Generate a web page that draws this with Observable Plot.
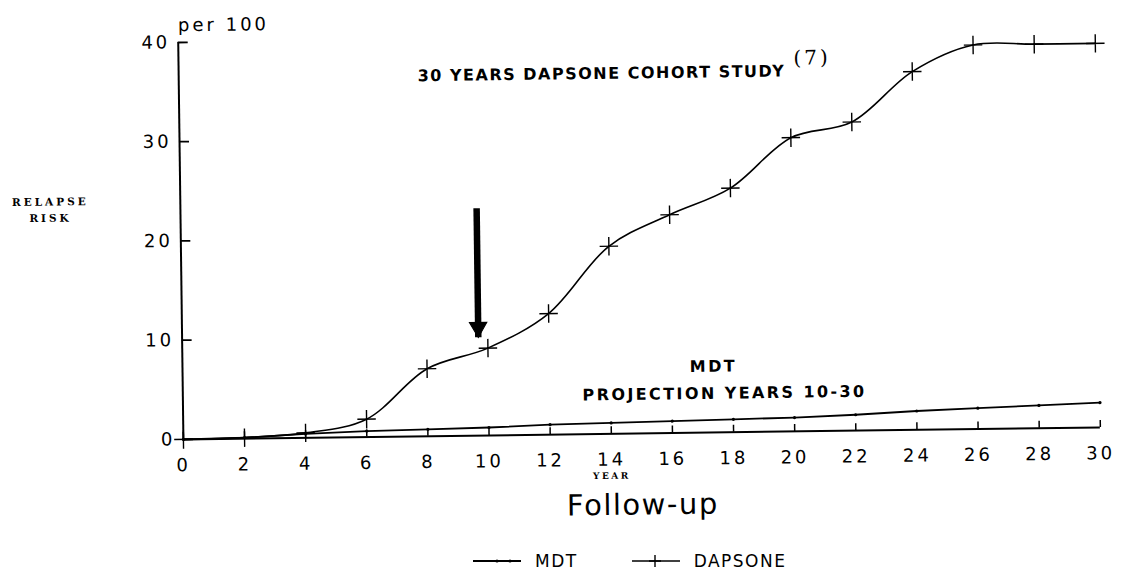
<!DOCTYPE html>
<html>
<head>
<meta charset="utf-8">
<script src="https://cdn.jsdelivr.net/npm/d3@7"></script>
<script src="https://cdn.jsdelivr.net/npm/@observablehq/plot@0.6"></script>
<style>
  body { margin: 0; background: #fff; }
  #chart { position: relative; width: 1121px; height: 585px; overflow: hidden; background: #fff; font-family: "DejaVu Sans", sans-serif; }
  #chart #main { position: absolute; left: 0; top: 0; transform: rotate(-0.75deg); transform-origin: 560px 290px; }
  #main g[aria-description="ticklabels"] text { letter-spacing: 3px; }
  #main g[aria-description="title"] text { letter-spacing: 1.5px; }
  #main g[aria-description="ref"] text { letter-spacing: 3px; }
  #main g[aria-description="mdt note"] text { letter-spacing: 2.4px; }
  #main g[aria-description="unit"] text { letter-spacing: 3px; }
  #main g[aria-description="ylabel"] text { letter-spacing: 3px; }
  #main g[aria-description="year"] text { letter-spacing: 2.5px; }
  #main g[aria-description="xlabel"] text { letter-spacing: 1.5px; }
  #legend { position: absolute; left: 472px; top: 549px; height: 24px; display: flex; align-items: center; font-size: 17px; letter-spacing: 1.5px; color: #000; }
  #legend .item { display: flex; align-items: center; }
  #legend svg { display: block; }
</style>
</head>
<body>
<div id="chart"></div>
<script>
// ---- data ----
const years   = [0, 2, 4, 6, 8, 10, 12, 14, 16, 18, 20, 22, 24, 26, 28, 30];
const dapsone = [0, 0.1, 0.5, 1.8, 6.8, 8.8, 12.2, 18.9, 22.0, 24.6, 29.6, 31.1, 36.1, 38.7, 38.7, 38.7];
const mdt     = [0, 0.1, 0.4, 0.6, 0.7, 0.8, 1.0, 1.1, 1.2, 1.3, 1.4, 1.6, 1.9, 2.1, 2.3, 2.5];
const yTicks  = [0, 10, 20, 30, 40];
const xTicks  = years;
const seriesNames = ["MDT", "DAPSONE"];

// annotations (data coordinates)
const titleNote = [{label: "30 YEARS DAPSONE COHORT STUDY", x: 13.83, y: 36.3}];
const refNote   = [{label: "(7)", x: 20.12, y: 37.6}];
const mdtNotes  = [{label: "MDT", x: 17.37, y: 6.65}, {label: "PROJECTION YEARS 10-30", x: 17.72, y: 3.92}];
const arrowNote = [{x: 9.69, from: 22.9, to: 9.9}];
const yLabel    = [{label: "RELAPSE\nRISK", y: 23.45}];

const rows = years.map((yr, i) => ({year: yr, dapsone: dapsone[i], mdt: mdt[i]}));

const sans = "DejaVu Sans, sans-serif";
const serif = "DejaVu Serif, serif";

const W = 1121, H = 530, mL = 181, mR = 23, mT = 37, mB = 96;
const xScale = d3.scaleLinear([0, 30], [mL, W - mR]);
const yScale = d3.scaleLinear([0, 40], [H - mB, mT]);
// inward tick lengths (10px on y, 7px on x) expressed in data units
const yTickLen = xScale.invert(mL + 10) - 0;
const xTickLen = yScale.invert(H - mB - 7) - 0;

const plot = Plot.plot({
  width: W,
  height: H,
  marginLeft: mL,
  marginRight: mR,
  marginTop: mT,
  marginBottom: mB,
  x: {domain: [0, 30]},
  y: {domain: [0, 40]},
  style: {fontFamily: sans, color: "#000", background: "#fff", overflow: "visible"},
  marks: [
    // tick labels
    Plot.axisY(yTicks, {tickSize: 0, tickPadding: 8, fontSize: 18, label: null, ariaDescription: "ticklabels"}),
    Plot.axisX(xTicks, {tickSize: 0, tickPadding: 19, fontSize: 18, label: null, ariaDescription: "ticklabels"}),
    // inward tick marks
    Plot.ruleY(yTicks, {y: d => d, x1: () => 0, x2: () => yTickLen, stroke: "black", strokeWidth: 1.8}),
    Plot.ruleX(xTicks, {x: d => d, y1: () => 0, y2: () => xTickLen, stroke: "black", strokeWidth: 1.5}),
    Plot.ruleX([0], {strokeWidth: 2}),
    Plot.ruleY([0], {strokeWidth: 2}),
    Plot.line(rows, {x: "year", y: "mdt", stroke: "black", strokeWidth: 1.8}),
    Plot.dot(rows, {x: "year", y: "mdt", r: 1.6, fill: "black"}),
    Plot.line(rows, {x: "year", y: "dapsone", stroke: "black", strokeWidth: 1.6, curve: "catmull-rom"}),
    Plot.dot(rows, {x: "year", y: "dapsone", symbol: "plus", r: 6, stroke: "black", strokeWidth: 1.4}),
    Plot.link(arrowNote, {x1: "x", x2: "x", y1: "from", y2: "to", stroke: "black", strokeWidth: 6.5}),
    Plot.dot(arrowNote, {x: "x", y: "to", symbol: "triangle", rotate: 180, r: 6.5, fill: "black", stroke: "black", strokeWidth: 1, dy: -10}),
    Plot.text(titleNote, {x: "x", y: "y", text: "label", fontSize: 16, fontWeight: "bold", ariaDescription: "title"}),
    Plot.text(refNote, {x: "x", y: "y", text: "label", fontSize: 20, fontFamily: serif, textAnchor: "start", ariaDescription: "ref"}),
    Plot.text(mdtNotes, {x: "x", y: "y", text: "label", fontSize: 16, fontWeight: "bold", ariaDescription: "mdt note"}),
    Plot.text(["per 100"], {frameAnchor: "top-left", dy: -24, textAnchor: "start", fontSize: 18, ariaDescription: "unit"}),
    Plot.text(yLabel, {y: "y", text: "label", frameAnchor: "left", textAnchor: "middle", dx: -130, fontFamily: serif, fontWeight: "bold", fontSize: 10.5, lineHeight: 1.55, ariaDescription: "ylabel"}),
    Plot.text(["YEAR"], {x: [14], frameAnchor: "bottom", dy: 45, fontFamily: serif, fontWeight: "bold", fontSize: 9, ariaDescription: "year"}),
    Plot.text(["Follow-up"], {x: [15], frameAnchor: "bottom", dy: 81, fontSize: 29, ariaDescription: "xlabel"})
  ]
});
plot.id = "main";
const chart = document.getElementById("chart");
chart.appendChild(plot);

// legend
const legend = document.createElement("div");
legend.id = "legend";
legend.innerHTML = `
  <div class="item">
    <svg width="50" height="16"><line x1="1" y1="8" x2="49" y2="8" stroke="black" stroke-width="1.8"/><circle cx="25" cy="8" r="1.6" fill="black"/><circle cx="38" cy="8" r="1.6" fill="black"/></svg>
    <span style="margin-left:13px">${seriesNames[0]}</span>
  </div>
  <div class="item" style="margin-left:53px">
    <svg width="50" height="16"><line x1="1" y1="8" x2="49" y2="8" stroke="black" stroke-width="1.6"/><path d="M24,2V14M18,8H30" stroke="black" stroke-width="1.4"/></svg>
    <span style="margin-left:13px">${seriesNames[1]}</span>
  </div>`;
chart.appendChild(legend);
</script>
</body>
</html>
